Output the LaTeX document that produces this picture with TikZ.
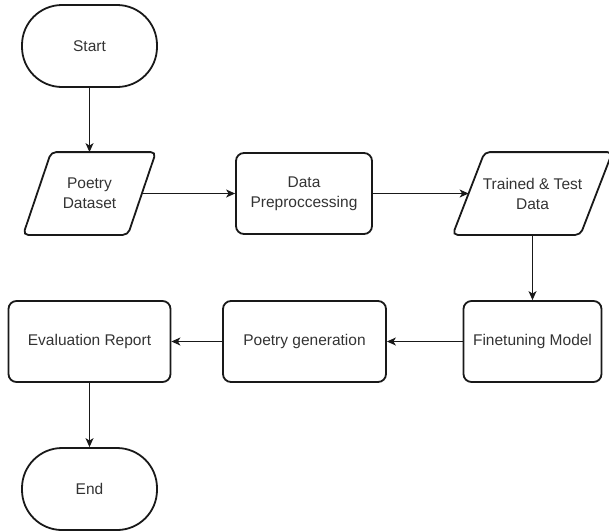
\documentclass[tikz,border=0pt]{standalone}
\usepackage{fontspec}
\setmainfont{Liberation Sans}
\usetikzlibrary{arrows.meta}
\tikzset{
  base/.style={draw=black!90, line width=1.8pt, text=black!80, align=center,
    font=\fontsize{15.5}{20}\selectfont, inner sep=0pt},
  term/.style={base, rectangle, rounded corners=40pt, minimum width=135pt, minimum height=82pt},
  proc/.style={base, rectangle, rounded corners=8pt, minimum height=81pt},
  iobody/.style={base, draw=none, rectangle, minimum height=81pt},
  ioshape/.style={draw=black!90, line width=1.8pt, rounded corners=5pt},
  conn/.style={draw=black!90, line width=1.2pt, -{Stealth[length=9pt,width=8pt,inset=2.5pt]}}
}
\begin{document}
\begin{tikzpicture}[x=1pt,y=-1pt]
\useasboundingbox (0,0) rectangle (609,531);
\node[term] (start) at (89.5,46) {Start};
\node[iobody, minimum width=103pt] (pd) at (89.5,193.5) {Poetry\\Dataset};
\draw[ioshape] ([xshift=14pt]pd.north west) -- ([xshift=14pt]pd.north east)
  -- ([xshift=-14pt]pd.south east) -- ([xshift=-14pt]pd.south west) -- cycle;
\node[proc, minimum width=136pt] (dp) at (304,193.5) {Data\\Preproccessing};
\node[iobody, minimum width=126pt] (td) at (532.5,193.5) {Trained \& Test\\Data};
\draw[ioshape] ([xshift=16pt]td.north west) -- ([xshift=16pt]td.north east)
  -- ([xshift=-16pt]td.south east) -- ([xshift=-16pt]td.south west) -- cycle;
\node[proc, minimum width=138pt] (fm) at (532.5,341.5) {Finetuning Model};
\node[proc, minimum width=163pt] (pg) at (304.5,341.5) {Poetry generation};
\node[proc, minimum width=162pt] (er) at (89.5,341.5) {Evaluation Report};
\node[term] (end) at (89.5,489) {End};
\draw[conn] (start) -- (pd.north);
\draw[conn] (pd.east) -- (dp);
\draw[conn] (dp) -- (td.west);
\draw[conn] (td.south) -- (fm.north);
\draw[conn] (fm) -- (pg);
\draw[conn] (pg) -- (er);
\draw[conn] (er) -- (end);
\end{tikzpicture}
\end{document}
